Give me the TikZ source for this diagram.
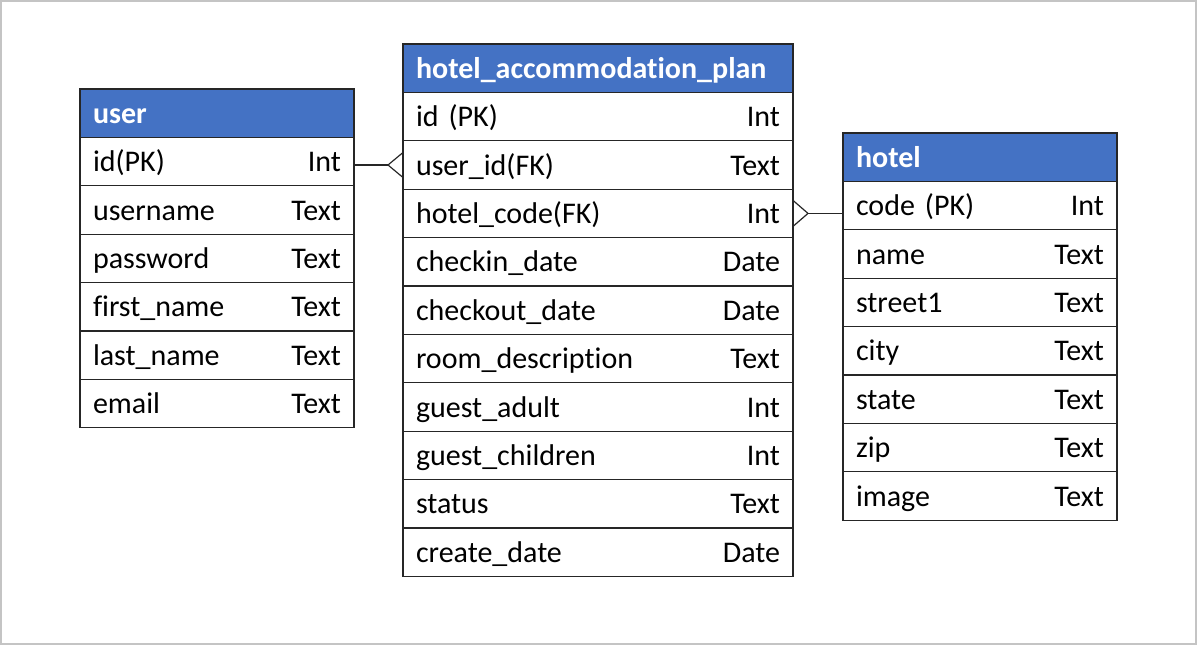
\documentclass[tikz,border=0pt]{standalone}
\usepackage{fontspec}
\setmainfont{Carlito}[Ligatures=NoCommon]
\usetikzlibrary{positioning}
\definecolor{headblue}{HTML}{4472C4}
\definecolor{framegray}{HTML}{C4C4C4}
\tikzset{%
  % Specifications for style of nodes:
  base/.style = {
    rectangle,
    draw=black!85,
    line width=1.3pt,
    outer sep=0pt,
    inner xsep=13pt,
    inner ysep=0pt,
    minimum height=48.4pt,
    text height=20pt,
    text depth=0pt,
    align=left,
    font=\fontsize{30}{35}\selectfont
  },
  head/.style={base, fill=headblue, text=white,
    font=\fontsize{30}{35}\selectfont\bfseries},
  field/.style={base, fill=white},
  narrow/.style={text width=248pt},
  wide/.style={text width=364pt},
  crow/.style={draw=black!85, line width=1.2pt},
}

\begin{document}
\begin{tikzpicture}[x=1pt, y=-1pt]
  \useasboundingbox (0,0) rectangle (1197,645);
  \draw[framegray, line width=1.2pt] (1,1) rectangle (1196,644);
  % tables
  \node (user) [head, narrow, anchor=north west, alias=user_r0] at (80,89) {user};
  \foreach \name/\type [count=\i, remember=\i as \j (initially 0)] in
    {id(PK)/Int, username/Text, password/Text, first\_name/Text,
     last\_name/Text, email/Text}
    \node (user_r\i) [field, narrow, below=0pt of user_r\j] {\name\hfill\type};

  \node (plan) [head, wide, anchor=north west, alias=plan_r0] at (403,44)
    {hotel\_accommodation\_plan};
  \foreach \name/\type [count=\i, remember=\i as \j (initially 0)] in
    {id (PK)/Int, user\_id(FK)/Text, hotel\_code(FK)/Int,
     checkin\_date/Date, checkout\_date/Date, room\_description/Text,
     guest\_adult/Int, guest\_children/Int, status/Text, create\_date/Date}
    \node (plan_r\i) [field, wide, below=0pt of plan_r\j] {\name\hfill\type};

  \node (hotel) [head, narrow, anchor=north west, alias=hotel_r0] at (843,133) {hotel};
  \foreach \name/\type [count=\i, remember=\i as \j (initially 0)] in
    {code (PK)/Int, name/Text, street1/Text, city/Text, state/Text,
     zip/Text, image/Text}
    \node (hotel_r\i) [field, narrow, below=0pt of hotel_r\j] {\name\hfill\type};

  % lines
  \coordinate (user_foot) at ([xshift=-15pt]plan_r2.west);
  \draw[crow] (plan_r2.west -| user_r1.east) -- (user_foot);
  \draw[crow] ([yshift=-12.5pt]plan_r2.west) -- (user_foot)
    -- ([yshift=12.5pt]plan_r2.west);
  \coordinate (hotel_foot) at ([xshift=15pt]plan_r3.east);
  \draw[crow] (plan_r3.east -| hotel_r1.west) -- (hotel_foot);
  \draw[crow] ([yshift=-13pt]plan_r3.east) -- (hotel_foot)
    -- ([yshift=13pt]plan_r3.east);
\end{tikzpicture}
\end{document}
